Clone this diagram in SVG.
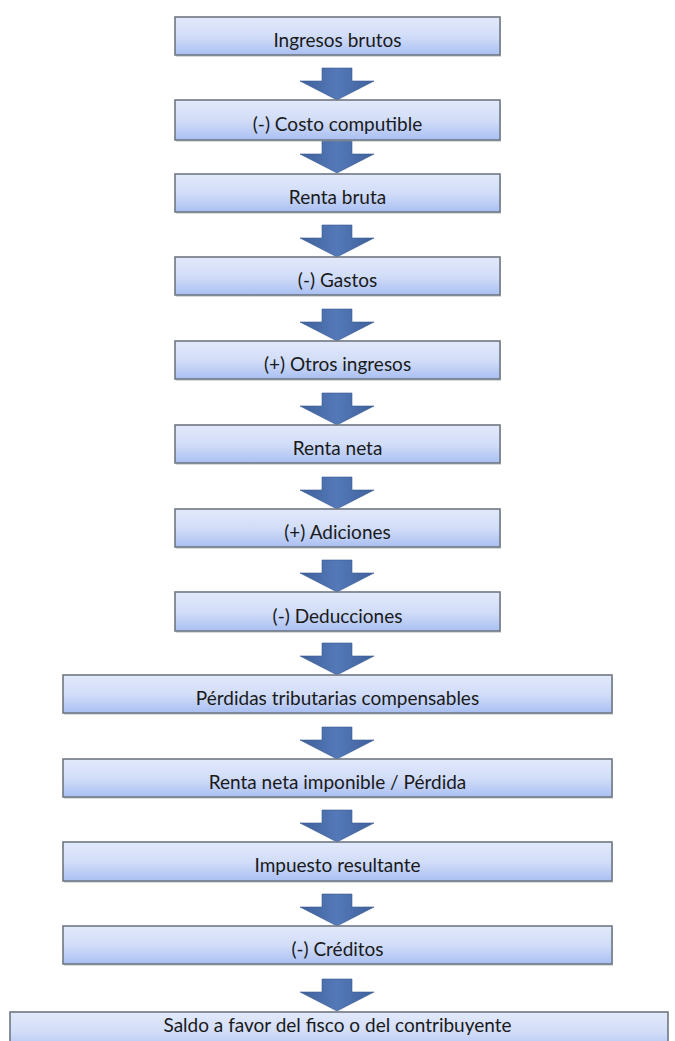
<svg xmlns="http://www.w3.org/2000/svg" width="675" height="1041" viewBox="0 0 675 1041">
<defs>
<linearGradient id="boxFill" x1="0" y1="0" x2="0" y2="1">
<stop offset="0" stop-color="#e2e9fb"/>
<stop offset="0.5" stop-color="#d2ddf8"/>
<stop offset="1" stop-color="#aac0f3"/>
</linearGradient>
<linearGradient id="arrowFill" x1="0" y1="0" x2="1" y2="0">
<stop offset="0" stop-color="#3f609b"/>
<stop offset="0.5" stop-color="#5479b8"/>
<stop offset="1" stop-color="#3f609b"/>
</linearGradient>
<path id="arr" d="M-15,0 H15 V13 H37 L0,32 L-37,13 H-15 Z"/>
</defs>
<style>
.box{fill:url(#boxFill);stroke:#6f7783;stroke-width:1.6}
.shadow{fill:#8e949c;opacity:0.35}
.lbl{font-family:Lato,"Liberation Sans",sans-serif;font-size:19px;fill:#1a1a1a;text-anchor:middle}
.arrow{fill:url(#arrowFill);stroke:#3a5a92;stroke-width:0.6}
</style>
<rect width="675" height="1041" fill="#ffffff"/>
<g id="connectors">
<use href="#arr" class="arrow" x="337" y="68"/>
<use href="#arr" class="arrow" x="337" y="141"/>
<use href="#arr" class="arrow" x="337" y="225"/>
<use href="#arr" class="arrow" x="337" y="309"/>
<use href="#arr" class="arrow" x="337" y="393"/>
<use href="#arr" class="arrow" x="337" y="477"/>
<use href="#arr" class="arrow" x="337" y="560"/>
<use href="#arr" class="arrow" x="337" y="643"/>
<use href="#arr" class="arrow" x="337" y="727"/>
<use href="#arr" class="arrow" x="337" y="810"/>
<use href="#arr" class="arrow" x="337" y="894"/>
<use href="#arr" class="arrow" x="337" y="979"/>
</g>
<g id="n1"><rect class="shadow" x="176" y="19" width="325" height="38"/><rect class="box" x="175" y="17" width="325" height="38"/><text class="lbl" x="337.5" y="47">Ingresos brutos</text></g>
<g id="n2"><rect class="shadow" x="176" y="102" width="325" height="40"/><rect class="box" x="175" y="100" width="325" height="40"/><text class="lbl" x="337.5" y="131">(-) Costo computible</text></g>
<g id="n3"><rect class="shadow" x="176" y="176" width="325" height="38"/><rect class="box" x="175" y="174" width="325" height="38"/><text class="lbl" x="337.5" y="204">Renta bruta</text></g>
<g id="n4"><rect class="shadow" x="176" y="259" width="325" height="38"/><rect class="box" x="175" y="257" width="325" height="38"/><text class="lbl" x="337.5" y="287">(-) Gastos</text></g>
<g id="n5"><rect class="shadow" x="176" y="343" width="325" height="38"/><rect class="box" x="175" y="341" width="325" height="38"/><text class="lbl" x="337.5" y="371">(+) Otros ingresos</text></g>
<g id="n6"><rect class="shadow" x="176" y="427" width="325" height="38"/><rect class="box" x="175" y="425" width="325" height="38"/><text class="lbl" x="337.5" y="455">Renta neta</text></g>
<g id="n7"><rect class="shadow" x="176" y="511" width="325" height="38"/><rect class="box" x="175" y="509" width="325" height="38"/><text class="lbl" x="337.5" y="539">(+) Adiciones</text></g>
<g id="n8"><rect class="shadow" x="176" y="594" width="325" height="39"/><rect class="box" x="175" y="592" width="325" height="39"/><text class="lbl" x="337.5" y="623">(-) Deducciones</text></g>
<g id="n9"><rect class="shadow" x="64" y="677" width="549" height="38"/><rect class="box" x="63" y="675" width="549" height="38"/><text class="lbl" x="337.5" y="705">Pérdidas tributarias compensables</text></g>
<g id="n10"><rect class="shadow" x="64" y="761" width="549" height="38"/><rect class="box" x="63" y="759" width="549" height="38"/><text class="lbl" x="337.5" y="789">Renta neta imponible / Pérdida</text></g>
<g id="n11"><rect class="shadow" x="64" y="844" width="549" height="39"/><rect class="box" x="63" y="842" width="549" height="39"/><text class="lbl" x="337.5" y="872">Impuesto resultante</text></g>
<g id="n12"><rect class="shadow" x="64" y="928" width="549" height="38"/><rect class="box" x="63" y="926" width="549" height="38"/><text class="lbl" x="337.5" y="956">(-) Créditos</text></g>
<g id="n13"><rect class="box" x="10" y="1012" width="658" height="40"/><text class="lbl" x="337.5" y="1032">Saldo a favor del fisco o del contribuyente</text></g>
</svg>
